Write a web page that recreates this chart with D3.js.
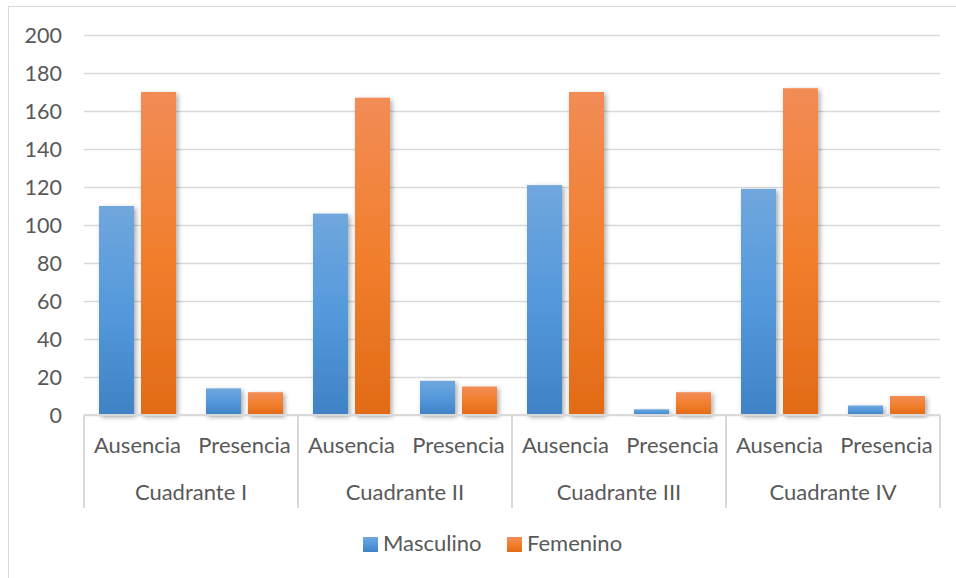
<!DOCTYPE html>
<html>
<head>
<meta charset="utf-8">
<script src="https://cdn.jsdelivr.net/npm/d3@7"></script>
<style>
  html, body { margin: 0; padding: 0; background: #fff; }
  svg { display: block; }
  text { font-family: Lato, "Open Sans", sans-serif; fill: #595959; }
</style>
</head>
<body>
<svg id="chart" width="956" height="578"></svg>
<script>
const quadrants = ["Cuadrante I", "Cuadrante II", "Cuadrante III", "Cuadrante IV"];
const conditions = ["Ausencia", "Presencia"];
const seriesNames = ["Masculino", "Femenino"];
const masculino = [110, 14, 106, 18, 121, 3, 119, 5];
const femenino  = [170, 12, 167, 15, 170, 12, 172, 10];
const yTicks = [0, 20, 40, 60, 80, 100, 120, 140, 160, 180, 200];

(function () {
const rows = [];
quadrants.forEach((q, qi) => conditions.forEach((c, ci) => {
  const i = qi * conditions.length + ci;
  rows.push({ q, c, Masculino: masculino[i], Femenino: femenino[i] });
}));

const svg = d3.select("#chart");
const pl = 84, pr = 940, pt = 35, pb = 415;

const defs = svg.append("defs");
const grads = {
  Masculino: ["#70a7dd", "#5499dc", "#3f82c5"],
  Femenino:  ["#f28c56", "#f17f2d", "#e26b16"]
};
seriesNames.forEach(s => {
  const g = defs.append("linearGradient").attr("id", "g-" + s)
    .attr("x1", 0).attr("y1", 0).attr("x2", 0).attr("y2", 1);
  g.append("stop").attr("offset", "0%").attr("stop-color", grads[s][0]);
  g.append("stop").attr("offset", "50%").attr("stop-color", grads[s][1]);
  g.append("stop").attr("offset", "100%").attr("stop-color", grads[s][2]);
});
const f = defs.append("filter").attr("id", "shadow")
  .attr("x", "-50%").attr("y", "-20%").attr("width", "200%").attr("height", "140%");
f.append("feDropShadow").attr("dx", 2).attr("dy", 2).attr("stdDeviation", 2.5)
  .attr("flood-color", "#000").attr("flood-opacity", 0.35);

svg.append("rect").attr("x", 8.5).attr("y", 6.5).attr("width", 1000).attr("height", 700)
  .attr("fill", "none").attr("stroke", "#d9d9d9").attr("stroke-width", 1);

const y = d3.scaleLinear().domain([0, 200]).range([pb, pt]);
const xQ = d3.scaleBand().domain(quadrants).range([pl, pr]).padding(0);
const xC = d3.scaleBand().domain(conditions).range([0, xQ.bandwidth()]).padding(0);
const xS = d3.scaleBand().domain(seriesNames).range([0, xC.bandwidth()])
  .paddingInner(1 / 6).paddingOuter(0.357);

const yAxis = d3.axisLeft(y).tickValues(yTicks).tickSize(-(pr - pl)).tickPadding(22);
const ga = svg.append("g").attr("transform", `translate(${pl},0)`).call(yAxis);
ga.select(".domain").remove();
ga.selectAll(".tick line").attr("stroke", "#d9d9d9").attr("stroke-width", 1.5);
ga.selectAll(".tick text").style("font-size", "21.5px").attr("fill", "#595959")
  .attr("dy", "0.36em");

const groups = svg.append("g").selectAll("g").data(rows).join("g")
  .attr("transform", d => `translate(${xQ(d.q) + xC(d.c)},0)`);
groups.selectAll("rect").data(d => seriesNames.map(s => ({ s, v: d[s] }))).join("rect")
  .attr("x", d => xS(d.s))
  .attr("width", xS.bandwidth())
  .attr("y", d => y(d.v))
  .attr("height", d => y(0) - y(d.v))
  .attr("fill", d => `url(#g-${d.s})`)
  .attr("filter", "url(#shadow)");

svg.append("line").attr("x1", pl).attr("x2", pr).attr("y1", pb).attr("y2", pb)
  .attr("stroke", "#d9d9d9").attr("stroke-width", 2);

const seps = quadrants.map(q => xQ(q)).concat([xQ(quadrants[quadrants.length - 1]) + xQ.bandwidth()]);
svg.append("g").selectAll("line").data(seps).join("line")
  .attr("x1", d => d).attr("x2", d => d).attr("y1", pb).attr("y2", 508)
  .attr("stroke", "#d9d9d9").attr("stroke-width", 2);

svg.append("g").selectAll("text").data(rows).join("text")
  .attr("x", d => xQ(d.q) + xC(d.c) + xC.bandwidth() / 2)
  .attr("y", 453)
  .attr("text-anchor", "middle")
  .style("font-size", "22px")
  .text(d => d.c);

svg.append("g").selectAll("text").data(quadrants).join("text")
  .attr("x", d => xQ(d) + xQ.bandwidth() / 2)
  .attr("y", 500)
  .attr("text-anchor", "middle")
  .style("font-size", "22px")
  .text(d => d);

const legendX = [363, 507];
const lg = svg.append("g").selectAll("g").data(seriesNames).join("g")
  .attr("transform", (d, i) => `translate(${legendX[i]},537)`);
lg.append("rect").attr("width", 15).attr("height", 15).attr("fill", d => `url(#g-${d})`);
lg.append("text").attr("x", 20).attr("y", 14).style("font-size", "22px").text(d => d);
})();
</script>
</body>
</html>
